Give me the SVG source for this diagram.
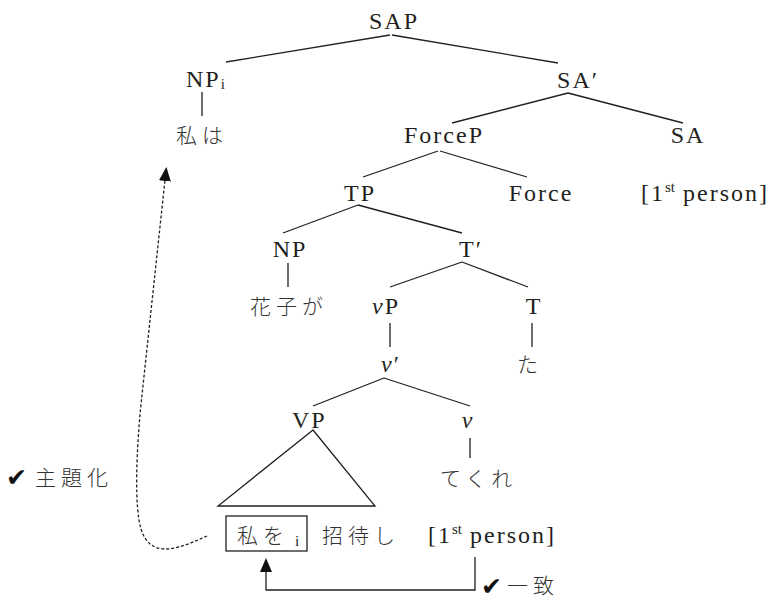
<svg xmlns="http://www.w3.org/2000/svg" width="768" height="600" viewBox="0 0 768 600">
<style>
.t{font-family:"Liberation Serif","Times New Roman",Times,serif;font-size:24px;letter-spacing:2px;fill:#231f20}
.c{text-anchor:middle}
.j{font-family:"Noto Sans CJK JP","Noto Sans CJK SC",sans-serif;font-size:21px;font-weight:300;letter-spacing:5px;fill:#333}
.sub{font-size:15px;letter-spacing:0}
.i{font-style:italic}
.e{stroke:#231f20;stroke-width:1.3;fill:none}
.ck{font-family:"DejaVu Sans",sans-serif;font-size:25px;font-weight:bold;fill:#111}
</style>
<defs>
<marker id="ah" viewBox="0 0 14 12" refX="1" refY="6" markerWidth="14" markerHeight="12" markerUnits="userSpaceOnUse" orient="auto">
<path d="M14 6 L0 0 L0 12 Z" fill="#111"/>
</marker>
</defs>
<g id="edges">
<path class="e" d="M390 35 L226 62 M392 35 L558 63 M202 92 L202 116 M568 93 L452 123 M568 93 L683 123 M438 151 L363 177 M440 151 L527 177 M358 205 L283 233 M358 205 L462 233 M288 263 L288 287 M462 262 L390 287 M462 262 L528 287 M390 323 L390 347 M532 323 L532 347 M384 378 L313 406 M384 378 L470 406 M470 438 L470 458"/>
</g>
<g id="SAP"><text class="t c" x="394" y="29">SAP</text></g>
<g id="NPi"><text class="t" x="186" y="87">NP<tspan class="sub" dy="2">i</tspan></text></g>
<g id="watashiwa"><text class="j" x="176" y="143">私は</text></g>
<g id="SAbar"><text class="t c" x="578" y="88">SA′</text></g>
<g id="ForceP"><text class="t c" x="444" y="143">ForceP</text></g>
<g id="SA"><text class="t c" x="688" y="143">SA</text></g>
<g id="TP"><text class="t c" x="360" y="201">TP</text></g>
<g id="Force"><text class="t c" x="541" y="201">Force</text></g>
<g id="person1"><text class="t" x="641" y="201">[1<tspan class="sub" dy="-9">st</tspan><tspan dy="9"> person]</tspan></text></g>
<g id="NP"><text class="t c" x="290" y="257">NP</text></g>
<g id="Tbar"><text class="t c" x="471" y="257">T′</text></g>
<g id="hanako"><text class="j" x="250" y="314">花子が</text></g>
<g id="vP"><text class="t" x="372" y="314"><tspan class="i">v</tspan>P</text></g>
<g id="T"><text class="t c" x="534" y="314">T</text></g>
<g id="vbar"><text class="t" x="381" y="372"><tspan class="i">v</tspan>′</text></g>
<g id="ta"><text class="j" x="517" y="372">た</text></g>
<g id="VP"><text class="t" x="292" y="428">VP</text></g>
<g id="v"><text class="t i c" x="468" y="428">v</text></g>
<g id="tekure"><text class="j" x="440" y="486">てくれ</text></g>
<g id="triangle"><path class="e" d="M313 430 L218 506 L375 506 Z"/></g>
<g id="watashiwo">
<rect class="e" x="226" y="516" width="81" height="35"/>
<text class="j" x="237" y="543">私を</text>
<text class="t sub" x="295" y="546">i</text>
</g>
<g id="shoutai"><text class="j" x="322" y="543">招待し</text></g>
<g id="person2"><text class="t" x="428" y="543">[1<tspan class="sub" dy="-9">st</tspan><tspan dy="9"> person]</tspan></text></g>
<g id="arrows">
<path class="e" d="M475 557 L475 590 L266 590 L266 571" marker-end="url(#ah)"/>
<path class="e" stroke-dasharray="3 2" stroke-width="1" d="M207 536 C180 548 146 564 139 520 C134 490 138 430 142 395 L165 180" marker-end="url(#ah)"/>
</g>
<g id="topicalization"><text class="ck" x="6" y="486">✔</text><text class="j" x="35" y="485">主題化</text></g>
<g id="agree"><text class="ck" x="481" y="595">✔</text><text class="j" x="507" y="593">一致</text></g>
</svg>
